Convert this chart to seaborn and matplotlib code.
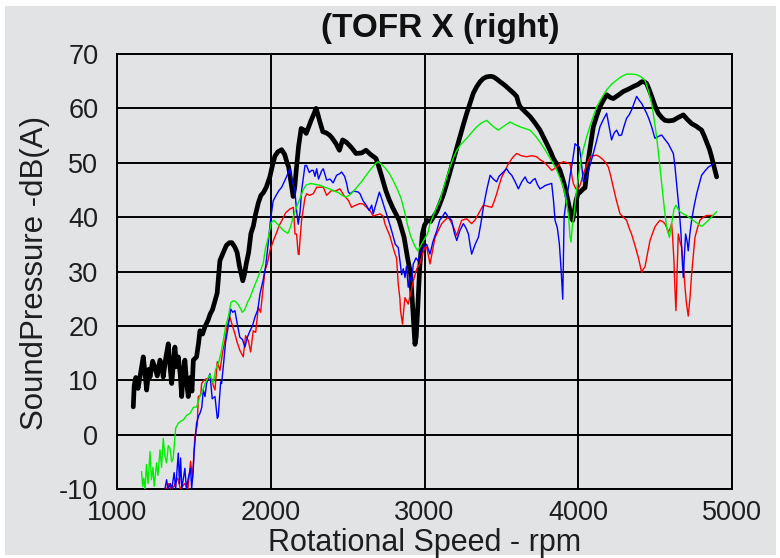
import matplotlib
matplotlib.use("Agg")
import matplotlib.pyplot as plt
import seaborn as sns
import pandas as pd
from matplotlib.patches import Rectangle
from matplotlib.ticker import MultipleLocator

# ---------------- data ----------------
black_rpm = [1104, 1110, 1120, 1135, 1150, 1169, 1180, 1191, 1205, 1213, 1230, 1245, 1260, 1278, 1290,
             1299, 1315, 1332, 1345, 1354, 1365, 1375, 1386, 1397, 1410, 1419, 1430, 1440, 1450, 1462,
             1475, 1486, 1495, 1516, 1530, 1538, 1555, 1570, 1590, 1605, 1620, 1636, 1650, 1668, 1690,
             1710, 1730, 1746, 1765, 1780, 1795, 1817, 1828, 1840, 1855, 1870, 1886, 1900, 1918, 1935,
             1951, 1970, 1994, 2010, 2026, 2045, 2070, 2090, 2105, 2115, 2130, 2145, 2155, 2165, 2180,
             2197, 2215, 2230, 2245, 2262, 2280, 2294, 2305, 2316, 2338, 2360, 2381, 2400, 2424, 2446,
             2467, 2490, 2511, 2530, 2554, 2590, 2619, 2650, 2684, 2700, 2716, 2748, 2770, 2792, 2835,
             2867, 2889, 2910, 2926, 2938, 2946, 2954, 2962, 2969, 2986, 3000, 3018, 3040, 3058, 3080,
             3101, 3125, 3145, 3166, 3188, 3210, 3231, 3253, 3275, 3297, 3318, 3340, 3362, 3383, 3405,
             3430, 3448, 3470, 3492, 3525, 3557, 3580, 3600, 3612, 3622, 3655, 3687, 3720, 3752, 3775,
             3796, 3818, 3839, 3860, 3882, 3900, 3915, 3930, 3943, 3955, 3965, 3975, 3987, 4000, 4013,
             4034, 4045, 4066, 4082, 4099, 4120, 4142, 4165, 4186, 4210, 4229, 4260, 4294, 4325, 4359,
             4390, 4414, 4430, 4446, 4462, 4479, 4500, 4522, 4545, 4565, 4590, 4620, 4650, 4685, 4710,
             4739, 4770, 4804, 4820, 4837, 4855, 4869, 4885, 4902]
black_db = [5.1, 9.0, 10.5, 8.5, 11.0, 14.3, 11.5, 8.2, 12.0, 10.6, 13.5, 12.4, 10.8, 13.7, 12.5,
            10.6, 14.0, 16.7, 12.0, 9.4, 13.0, 16.1, 12.5, 14.3, 11.0, 7.0, 11.5, 13.7, 10.0, 7.0,
            10.5, 8.0, 13.7, 14.3, 17.0, 19.1, 18.5, 19.8, 21.0, 22.2, 23.0, 24.6, 26.0, 32.0, 33.5,
            34.8, 35.3, 35.3, 34.5, 33.5, 31.0, 28.3, 29.5, 31.5, 33.5, 37.0, 38.4, 40.5, 42.6, 44.0,
            44.5, 45.5, 47.5, 49.5, 51.2, 52.0, 52.4, 51.5, 50.0, 49.3, 46.5, 43.8, 45.5, 48.6, 53.0,
            56.3, 56.0, 55.4, 56.5, 57.8, 59.0, 60.0, 59.0, 57.8, 55.7, 55.5, 55.1, 54.5, 53.5, 52.3,
            54.2, 53.8, 53.2, 52.6, 51.7, 51.8, 52.3, 51.5, 50.8, 49.5, 48.0, 44.9, 43.2, 41.8, 39.4,
            36.3, 32.6, 29.5, 22.2, 16.6, 18.0, 22.2, 27.0, 30.8, 36.9, 38.5, 39.4, 39.2, 40.0, 41.0,
            42.5, 44.3, 46.2, 48.3, 50.5, 52.7, 54.8, 57.0, 59.1, 61.0, 62.8, 64.0, 64.9, 65.5, 65.8,
            65.9, 65.8, 65.4, 64.9, 64.2, 63.4, 62.8, 62.2, 61.0, 60.3, 59.4, 58.5, 57.3, 56.0, 54.7,
            53.5, 52.2, 50.8, 49.8, 48.6, 47.0, 45.5, 43.5, 41.8, 40.0, 39.4, 41.0, 43.1, 44.3, 44.6,
            45.2, 45.4, 50.5, 53.5, 56.6, 58.5, 60.3, 61.5, 62.5, 62.0, 61.8, 62.4, 63.1, 63.5, 64.0,
            64.4, 64.9, 64.9, 64.6, 63.5, 62.2, 60.5, 59.1, 58.3, 57.8, 57.7, 57.8, 58.3, 58.8, 58.0,
            57.2, 56.7, 56.0, 55.0, 53.8, 52.5, 51.1, 49.3, 47.4]

green_rpm = [1158, 1165, 1172, 1180, 1190, 1200, 1213, 1222, 1232, 1240, 1256, 1265, 1278, 1288, 1299,
             1310, 1321, 1332, 1343, 1354, 1364, 1380, 1397, 1415, 1430, 1450, 1473, 1495, 1516, 1538,
             1560, 1581, 1603, 1625, 1640, 1657, 1675, 1690, 1706, 1722, 1740, 1755, 1770, 1785, 1798,
             1814, 1830, 1850, 1864, 1885, 1907, 1930, 1950, 1965, 1985, 2002, 2020, 2040, 2056, 2080,
             2110, 2125, 2145, 2164, 2190, 2210, 2229, 2260, 2290, 2316, 2350, 2380, 2403, 2440, 2470,
             2490, 2510, 2533, 2560, 2590, 2620, 2650, 2680, 2696, 2720, 2745, 2772, 2800, 2825, 2848,
             2870, 2891, 2910, 2935, 2956, 2971, 2990, 3021, 3036, 3060, 3080, 3101, 3130, 3166, 3188,
             3210, 3240, 3275, 3305, 3340, 3370, 3405, 3420, 3438, 3460, 3481, 3520, 3557, 3590, 3622,
             3655, 3687, 3720, 3752, 3780, 3806, 3835, 3861, 3885, 3904, 3920, 3937, 3947, 3954, 3963,
             3974, 3988, 4002, 4025, 4056, 4090, 4121, 4155, 4186, 4220, 4251, 4285, 4316, 4350, 4381,
             4410, 4435, 4455, 4479, 4495, 4511, 4528, 4544, 4560, 4576, 4594, 4609, 4625, 4637, 4650,
             4663, 4685, 4707, 4730, 4750, 4780, 4804, 4826, 4848, 4875, 4902]
green_db = [-6.8, -9.5, -8.0, -10.0, -5.5, -9.0, -3.1, -8.3, -6.0, -9.5, -5.2, -7.5, -2.8, -6.0, -0.7,
            -4.0, -5.2, -2.0, -2.5, -5.0, -4.3, 1.2, 2.1, 2.5, 2.7, 3.5, 3.9, 5.0, 5.1, 7.0,
            8.5, 10.0, 11.0, 9.4, 12.0, 13.0, 15.0, 17.3, 20.0, 21.6, 24.3, 24.6, 24.5, 24.0, 23.4,
            22.5, 23.0, 24.5, 25.2, 26.8, 28.3, 30.0, 31.5, 34.3, 36.5, 39.0, 39.4, 38.8, 38.3, 37.6,
            37.0, 38.0, 40.0, 41.6, 43.5, 45.0, 45.9, 46.2, 46.0, 45.9, 45.5, 45.2, 44.9, 44.5, 43.9,
            43.7, 44.0, 44.6, 45.5, 46.5, 47.7, 48.8, 49.8, 50.2, 49.7, 49.0, 48.0, 46.5, 45.0, 43.4,
            41.0, 38.4, 36.5, 34.8, 33.8, 34.5, 35.5, 37.0, 38.8, 40.5, 41.8, 43.1, 46.0, 49.2, 50.9,
            52.3, 53.5, 54.5, 55.5, 56.6, 57.3, 57.8, 57.4, 56.9, 56.4, 56.0, 56.8, 57.5, 57.0, 56.6,
            56.3, 56.0, 55.0, 53.8, 52.6, 51.4, 50.0, 48.6, 47.0, 45.5, 43.5, 40.6, 36.5, 35.4, 38.5,
            40.6, 44.5, 47.4, 51.5, 54.8, 57.8, 60.3, 62.0, 63.4, 64.5, 65.2, 65.9, 66.3, 66.3, 66.2,
            65.8, 65.2, 63.5, 60.9, 58.0, 54.8, 50.5, 46.2, 42.0, 38.2, 36.3, 38.8, 41.5, 42.2, 41.5,
            41.0, 40.6, 40.3, 39.8, 39.4, 38.8, 38.3, 38.8, 39.4, 40.2, 41.0]

blue_rpm = [1310, 1321, 1330, 1345, 1355, 1370, 1380, 1397, 1405, 1412, 1420, 1440, 1450, 1462, 1477,
            1484, 1493, 1501, 1516, 1530, 1538, 1550, 1560, 1571, 1581, 1592, 1603, 1618, 1636, 1651,
            1657, 1673, 1679, 1690, 1705, 1720, 1738, 1752, 1766, 1780, 1798, 1815, 1831, 1848, 1864,
            1880, 1896, 1915, 1929, 1950, 1966, 1980, 1998, 2015, 2030, 2050, 2070, 2095, 2124, 2140,
            2156, 2167, 2178, 2190, 2200, 2215, 2222, 2232, 2250, 2265, 2276, 2287, 2298, 2310, 2319,
            2330, 2341, 2363, 2385, 2405, 2428, 2449, 2460, 2480, 2493, 2504, 2515, 2540, 2569, 2580,
            2600, 2623, 2640, 2656, 2666, 2690, 2706, 2720, 2742, 2765, 2786, 2810, 2829, 2840, 2851,
            2862, 2873, 2883, 2894, 2905, 2916, 2927, 2945, 2959, 2970, 2993, 3014, 3036, 3055, 3080,
            3100, 3115, 3134, 3155, 3177, 3195, 3210, 3230, 3253, 3270, 3286, 3296, 3307, 3330, 3351,
            3368, 3383, 3405, 3427, 3448, 3470, 3485, 3503, 3520, 3535, 3550, 3568, 3590, 3611, 3633,
            3655, 3670, 3687, 3705, 3720, 3735, 3752, 3770, 3785, 3805, 3828, 3840, 3850, 3865, 3878,
            3890, 3900, 3905, 3909, 3922, 3937, 3950, 3965, 3980, 3991, 4008, 4020, 4034, 4045, 4056,
            4077, 4099, 4120, 4142, 4165, 4186, 4200, 4218, 4235, 4251, 4267, 4283, 4300, 4316, 4332,
            4348, 4365, 4381, 4397, 4414, 4430, 4446, 4462, 4479, 4490, 4500, 4520, 4544, 4565, 4587,
            4605, 4620, 4630, 4637, 4645, 4652, 4662, 4670, 4678, 4685, 4692, 4700, 4710, 4717, 4728,
            4739, 4755, 4772, 4788, 4804, 4826, 4848, 4865, 4880]
blue_db = [-10.0, -8.3, -10.0, -9.0, -10.0, -7.0, -10.0, -3.4, -9.0, -4.3, -10.0, -6.2, -10.0, -8.0, -6.2,
           -10.0, -7.0, -2.8, 2.1, 3.5, 3.9, 5.0, 8.2, 7.0, 9.4, 10.3, 11.2, 6.6, 7.0, 3.0,
           3.3, 9.7, 9.4, 12.5, 17.0, 19.5, 23.1, 22.5, 22.8, 20.5, 17.9, 17.5, 16.1, 18.0, 19.1,
           20.0, 21.6, 23.0, 25.9, 28.5, 31.0, 34.5, 39.6, 43.0, 43.8, 44.8, 45.5, 47.0, 48.9, 46.5,
           44.9, 41.2, 38.7, 41.0, 44.9, 48.0, 49.5, 49.5, 48.2, 48.6, 48.6, 47.5, 48.9, 47.0, 47.7,
           48.5, 48.9, 46.8, 47.0, 46.3, 47.7, 48.0, 48.3, 47.5, 46.2, 44.6, 44.3, 44.8, 44.6, 44.3,
           43.0, 42.1, 41.2, 42.2, 40.6, 43.0, 44.6, 43.5, 41.5, 39.5, 37.5, 35.0, 34.4, 32.0, 29.4,
           30.5, 28.9, 31.0, 27.1, 29.0, 28.2, 31.4, 32.5, 31.9, 33.2, 34.5, 35.0, 33.2, 35.5, 37.5,
           39.5, 40.0, 40.9, 40.0, 39.4, 37.0, 35.7, 37.5, 38.8, 38.0, 36.9, 35.0, 33.2, 35.0, 36.3,
           39.0, 41.8, 45.0, 47.7, 47.0, 46.5, 47.5, 48.0, 48.5, 48.9, 48.2, 47.7, 46.5, 45.2, 46.5,
           47.4, 46.5, 46.2, 46.8, 47.1, 46.0, 45.2, 45.5, 45.8, 46.0, 46.2, 43.0, 39.4, 38.0, 35.1,
           30.0, 24.9, 33.0, 40.0, 43.0, 45.5, 48.0, 50.5, 53.5, 53.2, 52.9, 50.5, 46.5, 46.8, 47.4,
           49.5, 51.7, 54.0, 56.6, 58.0, 59.1, 57.0, 54.2, 55.5, 56.0, 55.0, 55.1, 56.8, 58.2, 58.8,
           59.7, 61.0, 62.2, 61.5, 60.9, 60.0, 59.1, 58.0, 56.6, 55.5, 54.5, 54.8, 55.1, 54.3, 53.5,
           52.5, 51.7, 49.5, 47.4, 45.0, 43.1, 40.0, 36.9, 32.0, 28.9, 33.0, 36.9, 35.5, 33.8, 37.0,
           39.4, 42.0, 44.3, 46.0, 47.7, 48.5, 49.2, 49.5, 49.8]

red_rpm = [1321, 1335, 1350, 1370, 1391, 1397, 1410, 1440, 1460, 1477, 1490, 1505, 1521, 1527, 1543,
           1549, 1565, 1581, 1600, 1614, 1625, 1636, 1651, 1668, 1685, 1701, 1715, 1733, 1750, 1766,
           1780, 1798, 1814, 1820, 1835, 1853, 1868, 1885, 1901, 1918, 1933, 1950, 1961, 1977, 1995,
           2015, 2035, 2053, 2070, 2096, 2124, 2146, 2157, 2167, 2178, 2183, 2190, 2200, 2222, 2233,
           2250, 2276, 2298, 2319, 2341, 2363, 2380, 2395, 2420, 2449, 2475, 2504, 2525, 2545, 2580,
           2601, 2645, 2666, 2710, 2731, 2742, 2775, 2808, 2818, 2829, 2840, 2844, 2857, 2865, 2873,
           2894, 2910, 2927, 2950, 2971, 2990, 3003, 3014, 3036, 3050, 3069, 3090, 3112, 3135, 3155,
           3175, 3188, 3210, 3225, 3242, 3275, 3307, 3330, 3351, 3383, 3410, 3438, 3455, 3470, 3485,
           3503, 3525, 3546, 3575, 3600, 3630, 3665, 3700, 3730, 3755, 3774, 3800, 3828, 3861, 3880,
           3904, 3925, 3948, 3960, 3969, 3985, 4001, 4015, 4034, 4056, 4077, 4100, 4121, 4145, 4164,
           4180, 4197, 4213, 4229, 4250, 4273, 4295, 4316, 4332, 4348, 4370, 4392, 4414, 4425, 4435,
           4450, 4468, 4485, 4500, 4520, 4533, 4550, 4565, 4578, 4587, 4600, 4609, 4616, 4624, 4630,
           4637, 4645, 4652, 4663, 4674, 4686, 4696, 4706, 4717, 4728, 4739, 4750, 4761, 4777, 4793,
           4815, 4837, 4860, 4880]
red_db = [-10.0, -9.0, -10.0, -9.5, -8.0, -8.3, -10.0, -9.0, -10.0, -4.9, -8.0, -0.4, 1.8, 7.0, 7.3,
          9.4, 10.0, 10.3, 10.0, 10.3, 9.0, 8.2, 13.4, 11.8, 15.0, 17.3, 20.0, 21.6, 20.0, 18.5,
          17.0, 15.5, 14.6, 14.3, 18.2, 17.3, 15.2, 19.1, 18.8, 23.4, 22.5, 27.0, 30.1, 31.5, 34.0,
          35.6, 37.0, 38.4, 39.3, 40.8, 41.5, 41.8, 36.9, 36.9, 33.2, 33.1, 36.0, 39.5, 43.6, 44.3,
          44.0, 44.3, 45.5, 45.5, 45.5, 44.0, 44.5, 44.9, 44.8, 45.2, 44.0, 43.1, 41.8, 42.1, 42.5,
          42.4, 41.2, 40.2, 40.6, 40.2, 38.8, 36.5, 33.2, 32.5, 27.7, 25.0, 22.8, 20.3, 23.0, 25.2,
          24.0, 26.0, 28.3, 30.5, 31.5, 33.5, 34.5, 34.5, 31.4, 33.5, 36.3, 37.5, 38.8, 39.5, 40.0,
          39.0, 38.2, 36.6, 38.0, 39.4, 39.7, 38.8, 39.5, 40.6, 42.2, 42.0, 41.8, 43.0, 44.3, 45.8,
          47.4, 48.6, 49.8, 51.0, 51.7, 51.3, 51.1, 51.3, 51.1, 50.5, 50.2, 49.5, 48.6, 49.2, 49.8,
          50.2, 50.0, 49.8, 47.5, 46.2, 45.2, 45.2, 46.0, 48.0, 49.5, 51.1, 51.3, 51.4, 51.0, 50.5,
          50.0, 49.2, 47.5, 45.5, 43.0, 40.6, 40.0, 39.4, 38.0, 36.9, 34.8, 32.6, 29.8, 30.5, 30.8,
          33.0, 35.7, 37.0, 38.2, 39.0, 39.4, 39.2, 38.8, 38.0, 37.2, 38.0, 38.8, 36.0, 32.0, 27.0,
          22.8, 30.0, 36.9, 35.5, 34.5, 31.0, 27.1, 24.0, 21.8, 25.0, 29.5, 33.0, 36.3, 38.0, 39.4,
          40.0, 40.3, 40.3, 40.3]

x_ticks = [1000, 2000, 3000, 4000, 5000]
y_ticks = [-10, 0, 10, 20, 30, 40, 50, 60, 70]
title = "(TOFR X (right)"
x_label = "Rotational Speed - rpm"
y_label = "SoundPressure -dB(A)"

# ---------------- figure ----------------
sns.set_theme(style="white")
plt.rcParams["font.family"] = ["Liberation Sans", "DejaVu Sans"]
plt.rcParams["axes.unicode_minus"] = False

W, H = 780, 558
fig = plt.figure(figsize=(W / 100, H / 100), dpi=100)
fig.patch.set_facecolor("white")
bg = "#e2e3e5"
fig.add_artist(Rectangle((5 / W, 3 / H), 771 / W, 549 / H, transform=fig.transFigure,
                         facecolor=bg, edgecolor="none", zorder=-10))

ax_l, ax_r, ax_t, ax_b = 117.3, 731.7, 54, 489
ax = fig.add_axes([ax_l / W, (H - ax_b) / H, (ax_r - ax_l) / W, (ax_b - ax_t) / H])
ax.set_facecolor("none")

series = [
    ("black", black_rpm, black_db, "#000000", 3.4),
    ("red", red_rpm, red_db, "#ff0000", 1.0),
    ("blue", blue_rpm, blue_db, "#0000ff", 1.0),
    ("green", green_rpm, green_db, "#00f000", 1.0),
]
for i, (name, xs, ys, col, lw) in enumerate(series):
    df = pd.DataFrame({"rpm": xs, "db": ys})
    sns.lineplot(data=df, x="rpm", y="db", ax=ax, color=col, linewidth=lw,
                 sort=False, estimator=None, zorder=3 + i)

ax.set_xlim(1000, 5000)
ax.set_ylim(-10, 70)
ax.set_xticks(x_ticks)
ax.set_yticks(y_ticks)
ax.xaxis.set_minor_locator(MultipleLocator(200))
ax.yaxis.set_minor_locator(MultipleLocator(5))
ax.grid(True, which="major", color="black", linewidth=1.4)
ax.set_axisbelow(True)
for s in ax.spines.values():
    s.set_visible(True)
    s.set_color("black")
    s.set_linewidth(1.4)

tc = "#1e1e1e"
ax.tick_params(axis="x", which="major", direction="out", length=5, width=1.4,
               color="black", labelsize=19.5, labelcolor=tc, pad=3)
ax.tick_params(axis="x", which="minor", direction="in", length=4.3, width=1.2, color="black")
ax.tick_params(axis="y", which="major", direction="out", length=12.2, width=1.4,
               color="black", labelsize=19.5, labelcolor=tc, pad=1.5)
ax.tick_params(axis="y", which="minor", direction="out", length=6.5, width=1.2, color="black")

ax.set_xlabel(x_label, fontsize=22, color=tc)
ax.set_ylabel(y_label, fontsize=22.5, color=tc)
ax.xaxis.set_label_coords((425 - ax_l) / (ax_r - ax_l), (ax_b - 528) / (ax_b - ax_t))
ax.yaxis.set_label_coords((50 - ax_l) / (ax_r - ax_l), (ax_b - 273) / (ax_b - ax_t))
ax.set_title(title, fontsize=24, fontweight="bold", color="#111111",
             x=(440 - ax_l) / (ax_r - ax_l), y=(ax_b - 45) / (ax_b - ax_t))

fig.savefig("out.png", dpi=100, facecolor=fig.get_facecolor())
